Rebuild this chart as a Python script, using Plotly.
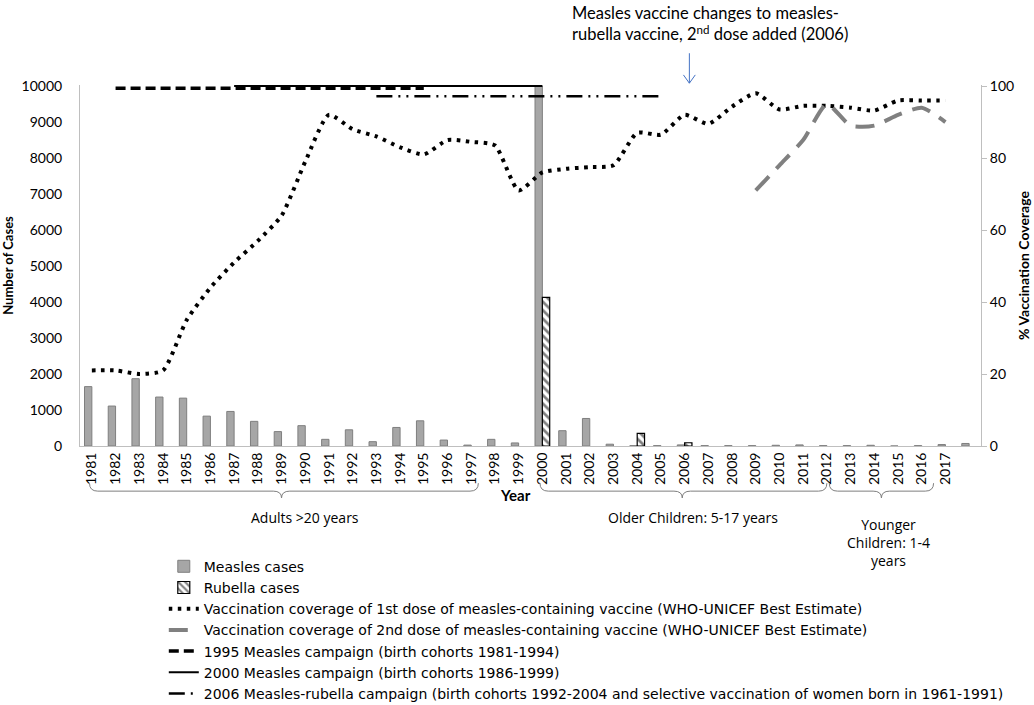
import plotly.graph_objects as go

years = list(range(1981, 2019))
tick_years = list(range(1981, 2018))

# reported cases (2000 measles bar runs off the top of the axis)
measles_cases = [1650, 1110, 1870, 1360, 1330, 830, 960, 685, 400, 565,
                 185, 450, 120, 515, 700, 165, 25, 185, 85, 10000,
                 425, 765, 50, 10, 10, 30, 10, 10, 10, 20,
                 30, 10, 10, 20, 0, 10, 40, 70]
rubella_cases = [None] * 19 + [4130, None, None, None, 350, None, 90] + [None] * 12

# WHO-UNICEF coverage estimates (%)
dose1_years = list(range(1981, 2018))
dose1_cov = [21, 21, 20, 21, 35, 44, 51, 57, 64, 79,
             92, 88, 86, 83, 81, 85, 84.5, 83.5, 71, 76,
             77, 77.5, 78, 87, 86.5, 92, 89.5, 94.3, 98, 93.5,
             94.5, 94.5, 94, 93.2, 96, 96, 96]
dose2_years = list(range(2009, 2018))
dose2_cov = [71, 78, 85, 95, 89, 89, 92, 94, 90]

# vaccination campaigns, drawn as horizontal bars on the coverage axis
camp1995_years = [1982, 1995]
camp1995_level = [99.4, 99.4]
camp2000_years = [1987, 2000]
camp2000_level = [100, 100]
camp2006_years = [1993, 2005]
camp2006_level = [97.2, 97.2]

FONT = "Lato"
TEXT_FONT = "Open Sans"
LEGEND_FONT = "DejaVu Sans"

fig = go.Figure()
fig.add_trace(go.Bar(x=years, y=measles_cases, name="Measles cases",
                     marker=dict(color="#a6a6a6", line=dict(color="#7f7f7f", width=1))))
fig.add_trace(go.Bar(x=years, y=rubella_cases, name="Rubella cases",
                     marker=dict(color="white", line=dict(color="black", width=1.2),
                                 pattern=dict(shape="\\", fgcolor="black", bgcolor="white",
                                              size=6, solidity=0.45))))
fig.add_trace(go.Scatter(x=dose1_years, y=dose1_cov, yaxis="y2", mode="lines",
                         name="Vaccination coverage of 1st dose of measles-containing vaccine (WHO-UNICEF Best Estimate)",
                         line=dict(color="black", width=4, dash="3.5px,5.5px", shape="spline", smoothing=0.6)))
fig.add_trace(go.Scatter(x=dose2_years, y=dose2_cov, yaxis="y2", mode="lines",
                         name="Vaccination coverage of 2nd dose of measles-containing vaccine (WHO-UNICEF Best Estimate)",
                         line=dict(color="#808080", width=4, dash="19px,11px", shape="spline", smoothing=0.6)))
fig.add_trace(go.Scatter(x=camp1995_years, y=camp1995_level, yaxis="y2", mode="lines",
                         name="1995 Measles campaign (birth cohorts 1981-1994)",
                         line=dict(color="black", width=3.5, dash="10px,5px")))
fig.add_trace(go.Scatter(x=camp2000_years, y=camp2000_level, yaxis="y2", mode="lines",
                         name="2000 Measles campaign (birth cohorts 1986-1999)",
                         line=dict(color="black", width=2)))
fig.add_trace(go.Scatter(x=camp2006_years, y=camp2006_level, yaxis="y2", mode="lines",
                         name="2006 Measles-rubella campaign (birth cohorts 1992-2004 and selective vaccination of women born in 1961-1991)",
                         line=dict(color="black", width=2.5, dash="16px,6px,2px,6px,2px,6px")))

# curly brackets under the year labels
def brace(x0, x1, xc, y_line=-0.125, y_end=-0.103, y_tip=-0.144, d=0.35):
    return (f"M {x0},{y_end} Q {x0},{y_line} {x0 + d},{y_line} L {xc - d},{y_line} "
            f"Q {xc},{y_line} {xc},{y_tip} Q {xc},{y_line} {xc + d},{y_line} "
            f"L {x1 - d},{y_line} Q {x1},{y_line} {x1},{y_end}")

shapes = []
for x0, x1, xc in [(1980.9, 1997.3, 1989.0), (1999.9, 2012.0, 2005.9), (2012.1, 2016.5, 2014.3)]:
    shapes.append(dict(type="path", xref="x", yref="paper", path=brace(x0, x1, xc),
                       line=dict(color="#7f7f7f", width=1)))
# blue arrow pointing at 2006
shapes.append(dict(type="line", xref="x", yref="paper", x0=2006.2, x1=2006.2,
                   y0=1.088, y1=1.005, line=dict(color="#4472c4", width=1)))
shapes.append(dict(type="path", xref="x", yref="paper",
                   path="M 2005.95,1.028 L 2006.2,1.005 L 2006.45,1.028",
                   line=dict(color="#4472c4", width=1)))

annotations = [
    dict(text="Measles vaccine changes to measles-<br>rubella vaccine, 2<sup>nd</sup> dose added (2006)",
         xref="paper", yref="paper", x=0.544, y=1.232, xanchor="left", yanchor="top",
         align="left", showarrow=False, font=dict(family=FONT, size=16.5)),
    dict(text="<b>Year</b>", xref="x", yref="paper", x=1998.85, y=-0.136, yanchor="middle",
         showarrow=False, font=dict(family=FONT, size=15)),
    dict(text="Adults >20 years", xref="x", yref="paper", x=1990.0, y=-0.199, yanchor="middle",
         showarrow=False, font=dict(family=TEXT_FONT, size=14)),
    dict(text="Older Children: 5-17 years", xref="x", yref="paper", x=2006.35, y=-0.197,
         yanchor="middle", showarrow=False, font=dict(family=TEXT_FONT, size=14)),
    dict(text="Younger<br>Children: 1-4<br>years", xref="x", yref="paper", x=2014.6, y=-0.266,
         yanchor="middle", showarrow=False, font=dict(family=TEXT_FONT, size=14)),
]

fig.update_layout(
    width=1034, height=705,
    margin=dict(l=80, r=53, t=85, b=259, autoexpand=False),
    paper_bgcolor="white", plot_bgcolor="white",
    font=dict(family=FONT, size=14, color="black"),
    barmode="group", bargap=0.38,
    showlegend=True,
    legend=dict(x=0.093, y=-0.29, xanchor="left", yanchor="top", itemwidth=30,
                font=dict(family=LEGEND_FONT, size=14), tracegroupgap=0,
                bgcolor="rgba(0,0,0,0)"),
    xaxis=dict(range=[1980.5, 2018.5], tickvals=tick_years, ticktext=[str(y) for y in tick_years],
               tickangle=-90, showgrid=False, showline=True, linecolor="#bfbfbf",
               ticks="", zeroline=False, tickfont=dict(size=14), automargin=False),
    yaxis=dict(range=[0, 10030], dtick=1000, tickformat="d", showgrid=False,
               showline=True, linecolor="#bfbfbf", ticks="", zeroline=False, automargin=False,
               ticklabelstandoff=14,
               title=dict(text="<b>Number of Cases</b>", font=dict(size=13), standoff=8)),
    yaxis2=dict(range=[0, 100.3], dtick=20, overlaying="y", side="right", showgrid=False,
                showline=True, linecolor="#bfbfbf", ticks="outside", tickcolor="#bfbfbf",
                ticklen=5, zeroline=False, automargin=False,
                title=dict(text="<b>% Vaccination Coverage</b>", font=dict(size=14), standoff=6)),
    shapes=shapes, annotations=annotations,
)

fig.write_html("out.html", config={"displayModeBar": False},
               post_script="document.body.style.margin = '0';")
